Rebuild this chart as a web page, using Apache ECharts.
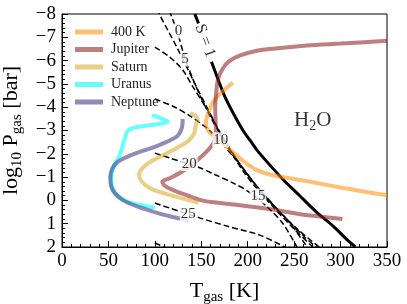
<!DOCTYPE html>
<html>
<head>
<meta charset="utf-8">
<script src="https://cdn.jsdelivr.net/npm/echarts@6/dist/echarts.min.js"></script>
<style>
html,body{margin:0;padding:0;background:#fff;}
#chart{width:407px;height:304px;}
</style>
</head>
<body>
<div id="chart"></div>
<script>
// ---- data: [T_gas (K), log10 P_gas (bar)] ----
const seriesNames = ['400 K', 'Jupiter', 'Saturn', 'Uranus', 'Neptune'];

const profile400K = [[184,-5.05],[175,-4.75],[167,-4.45],[161,-4.1],[157,-3.7],[155,-3.3],[158,-2.95],[166,-2.7],[176,-2.35],[186,-2.0],[198,-1.6],[210,-1.3],[225,-1.1],[245,-0.95],[270,-0.78],[300,-0.55],[325,-0.38],[350,-0.22]];
const jupiter = [[350,-6.85],[300,-6.73],[264,-6.65],[230,-6.52],[210,-6.42],[192,-6.22],[180,-5.98],[173,-5.65],[168,-5.2],[166,-4.6],[165,-4.0],[165.5,-3.3],[166,-2.8],[163,-2.45],[156,-2.1],[145,-1.7],[130,-1.25],[116,-0.95],[108,-0.8],[111,-0.62],[121,-0.42],[136,-0.2],[153,0.02],[175,0.13],[200,0.25],[225,0.38],[255,0.58],[280,0.7],[302,0.8]];
const saturn = [[138,-3.75],[143,-3.65],[146,-3.5],[144,-3.2],[142,-2.85],[136,-2.55],[126,-2.3],[112,-2.0],[97,-1.7],[87,-1.4],[83,-1.1],[86,-0.8],[96,-0.5],[112,-0.28],[130,-0.08],[147,0.1]];
const uranus = [[97,-3.65],[105,-3.55],[114,-3.38],[104,-3.28],[90,-3.2],[76,-3.1],[70,-2.95],[68,-2.7],[66,-2.45],[64,-2.15],[61,-1.85],[57,-1.6],[54,-1.25],[53,-0.9],[54,-0.55],[60,-0.2],[70,0.05],[85,0.2],[100,0.32]];
const neptune = [[130,-3.5],[129,-3.1],[124,-2.75],[112,-2.5],[100,-2.3],[85,-2.1],[72,-1.9],[60,-1.65],[54,-1.35],[52,-1.0],[53,-0.6],[57,-0.3],[66,0.0],[80,0.25],[98,0.48],[116,0.68],[136,0.85]];

// saturation curve S = 1 (null = gap for its label)
const saturationS1 = [[143,-8.0],[147,-7.6],null,[161,-5.95],[168,-5.2],[176,-4.4],[185,-3.7],[195,-3.0],[203,-2.55],[210,-2.16],[222,-1.6],[238,-0.9],[256,-0.2],[274,0.5],[292,1.1],[306,1.65],[316,2.0]];

// dashed contours
const contour0  = [[112,-8.5],[117,-8.0],[124,-7.25],[131,-6.3],[141,-5.2],[151,-4.3],[161,-3.5],[172,-2.75],[184,-2.0],[198,-1.2],[214,-0.4],[232,0.4],[254,1.25],[280,2.1]];
const contour5  = [[100,-8.6],[105,-8.0],[114,-7.3],[124,-6.55],[134,-5.75],[145,-4.85],[156,-4.0],[167,-3.15],[178,-2.4],[191,-1.6],[206,-0.8],[223,0.0],[242,0.8],[262,1.6],[275,2.05]];
const contour10 = [[100,-6.58],[116,-6.15],[130,-5.6],[141,-4.87],[152,-4.18],[163,-3.45],[172,-2.7],[183,-2.0],[196,-1.2],[211,-0.45],[228,0.3],[248,1.15],[270,2.0]];
const contour15 = [[100,-4.35],[119,-4.05],[138,-3.62],[156,-3.1],[170,-2.55],[185,-1.85],[198,-1.2],[212,-0.5],[229,0.25],[246,1.0],[264,2.0]];
const contour20 = [[100,-2.03],[116,-1.82],[133,-1.6],[149,-1.39],[165,-1.1],[184,-0.75],[200,-0.4],[221,0.28],[238,1.0],[253,2.0]];
const contour25 = [[100,0.11],[116,0.33],[149,0.76],[181,1.14],[213,1.49],[242,2.04]];
const contour30 = [[100,1.83],[116,2.1]];

const contourLabelText = ['0','5','10','15','20','25'];
const contourLabelPos  = [[125.5,-7.27],[132.5,-6.07],[171,-2.6],[211,-0.19],[137,-1.58],[136,0.6]];
const s1LabelPos = [154,-6.85];
const h2oPos = [270,-3.45];

const xTicks = [0,50,100,150,200,250,300,350];
const yTicks = [-8,-7,-6,-5,-4,-3,-2,-1,0,1,2];

// ---- chart ----
const FONT = "'Liberation Serif', 'Times New Roman', serif";
const colors = {
  '400 K':  'rgba(255,140,0,0.55)',
  'Jupiter':'rgba(140,30,30,0.57)',
  'Saturn': 'rgba(218,165,32,0.55)',
  'Uranus': 'rgba(0,255,255,0.6)',
  'Neptune':'rgba(72,61,139,0.6)'
};
const profiles = { '400 K': profile400K, 'Jupiter': jupiter, 'Saturn': saturn, 'Uranus': uranus, 'Neptune': neptune };

function dashed(data) {
  return { type:'line', data:data, symbol:'none', smooth:0.3, silent:true, z:2,
    lineStyle:{ color:'#000', width:1.5, type:[6,3] } };
}

const series = [];
[contour0, contour5, contour10, contour15, contour20, contour25, contour30].forEach(c => series.push(dashed(c)));
series.push({ type:'line', data:saturationS1, symbol:'none', smooth:0.3, silent:true, z:3,
  lineStyle:{ color:'#000', width:3 } });

seriesNames.forEach(n => {
  series.push({ name:n, type:'line', data:profiles[n], symbol:'none', smooth:0.3, z:4,
    itemStyle:{ color:colors[n] }, lineStyle:{ color:colors[n], width:4 } });
});

// contour labels
series.push({ type:'scatter', symbolSize:0, silent:true, z:6,
  data: contourLabelPos.map((p,i) => ({ value:p, name:contourLabelText[i] })),
  label:{ show:true, position:'inside', formatter: p => p.name, color:'#000', fontFamily:FONT, fontSize:15,
    backgroundColor:'#fff', padding:[0,1] } });
// S = 1 label
series.push({ type:'scatter', symbolSize:0, silent:true, z:6,
  data:[{ value:s1LabelPos, name:'S = 1' }],
  label:{ show:true, position:'inside', formatter:'S = 1', rotate:-70, color:'#000', fontFamily:FONT, fontSize:16 } });
// H2O
series.push({ type:'scatter', symbolSize:0, silent:true, z:6,
  data:[{ value:h2oPos, name:'H2O' }],
  label:{ show:true, position:'inside', formatter:'{a|H}{s|2}{a|O}', color:'#000',
    rich:{ a:{ fontFamily:FONT, fontSize:21, lineHeight:26, verticalAlign:'middle' },
           s:{ fontFamily:FONT, fontSize:14, lineHeight:14, verticalAlign:'bottom' } } } });

const chart = echarts.init(document.getElementById('chart'), null, { renderer:'canvas' });
chart.setOption({
  animation:false,
  backgroundColor:'#fff',
  grid:{ left:62, right:20, top:14, bottom:57, show:true, borderColor:'#000', borderWidth:1,
    backgroundColor:'transparent', containLabel:false, outerBoundsMode:'none' },
  legend:{
    data:seriesNames, orient:'vertical', left:70, top:20, icon:'rect', itemWidth:28, itemHeight:5, itemGap:3.5,
    textStyle:{ fontFamily:FONT, fontSize:14, color:'#222', lineHeight:14, padding:[0,0,0,3] }
  },
  xAxis:{
    type:'value', min:0, max:350, interval:50,
    name:'{a|T}{s|gas}{a| [K]}', nameLocation:'middle', nameGap:30,
    nameTextStyle:{ rich:{ a:{ fontFamily:FONT, fontSize:22, color:'#000', lineHeight:28 },
                          s:{ fontFamily:FONT, fontSize:15, color:'#000', lineHeight:12, verticalAlign:'bottom' } } },
    axisLine:{ show:true, onZero:false, lineStyle:{ color:'#000', width:1 } },
    axisTick:{ show:true, inside:true, length:6, lineStyle:{ color:'#000' } },
    minorTick:{ show:true, splitNumber:5, length:3, lineStyle:{ color:'#000' } },
    axisLabel:{ fontFamily:FONT, fontSize:19, color:'#000', margin:5,
      formatter: v => xTicks.includes(v) ? String(v) : '' },
    splitLine:{ show:false }
  },
  yAxis:{
    type:'value', min:-8, max:2, interval:1, inverse:true,
    name:'{a|log}{s|10}{a| P}{s|gas}{a| [bar]}', nameLocation:'middle', nameGap:36,
    nameTextStyle:{ rich:{ a:{ fontFamily:FONT, fontSize:22, color:'#000', lineHeight:28 },
                          s:{ fontFamily:FONT, fontSize:15, color:'#000', lineHeight:12, verticalAlign:'bottom' } } },
    axisLine:{ show:true, onZero:false, lineStyle:{ color:'#000', width:1 } },
    axisTick:{ show:true, inside:true, length:6, lineStyle:{ color:'#000' } },
    minorTick:{ show:true, splitNumber:5, length:3, lineStyle:{ color:'#000' } },
    axisLabel:{ fontFamily:FONT, fontSize:19, color:'#000', margin:6,
      formatter: v => yTicks.includes(v) ? (v < 0 ? '\u2212' + (-v) : String(v)) : '' },
    splitLine:{ show:false }
  },
  series:series
});
</script>
</body>
</html>
